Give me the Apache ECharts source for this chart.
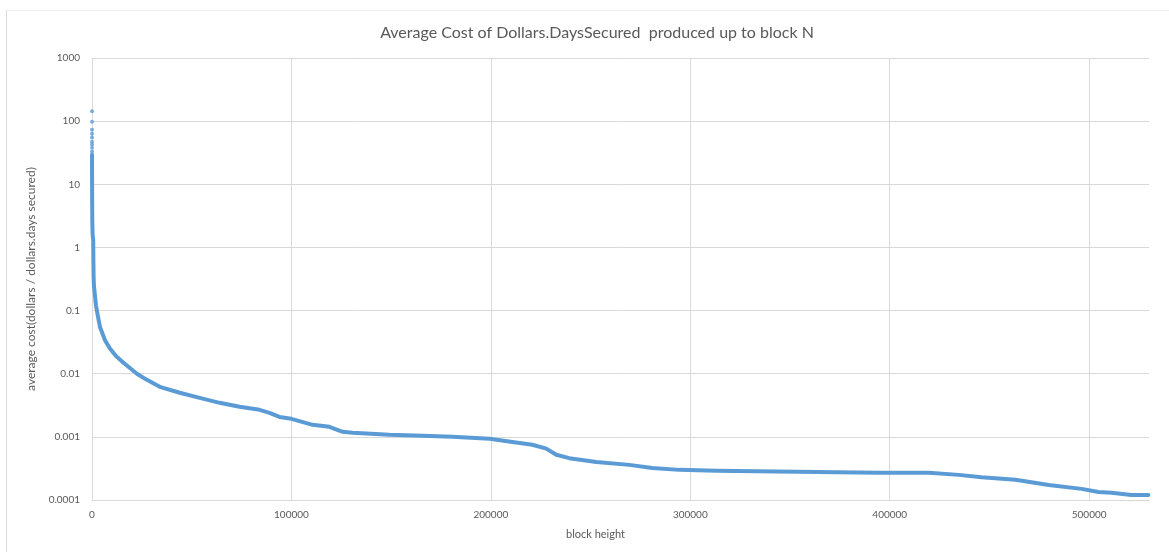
<!DOCTYPE html>
<html>
<head>
<meta charset="utf-8">
<title>Average Cost of Dollars.Days Secured</title>
<script src="https://cdn.jsdelivr.net/npm/echarts@6/dist/echarts.min.js"></script>
<style>
  html, body { margin: 0; padding: 0; background: #ffffff; }
  #chart { width: 1169px; height: 552px; }
</style>
</head>
<body>
<div id="chart"></div>
<script>
// Earliest blocks: sparse, individually visible points
const earlyBlocks = [1, 2, 3, 4, 5, 6, 7, 8, 9, 10];
const earlyCost   = [143, 98, 73, 63, 55, 47, 42.5, 38, 33, 29.4];

// Running average cost (dollars / dollars.days secured) up to block N
const blocks = [
  12, 20, 40, 80, 150, 300, 600, 700, 800, 1000, 1500, 2000, 3000, 4000,
  6500, 9000, 12000, 15500, 22500, 27500, 34000, 44000, 54000, 64000,
  74000, 84000, 89000, 94000, 100000, 110600, 119000, 125700, 130700,
  149000, 165700, 180700, 199300, 210800, 220800, 227800, 232800, 239300,
  252900, 269400, 280900, 294400, 313000, 353000, 394600, 419600, 434600,
  446100, 463100, 479700, 496200, 504700, 511200, 521200, 529700
];
const avgCost = [
  29, 20, 11, 5.5, 2.6, 1.6, 1.32, 0.6, 0.35, 0.24, 0.17, 0.12, 0.08, 0.055,
  0.034, 0.025, 0.019, 0.0152, 0.0100, 0.0080, 0.0062, 0.0050, 0.00415, 0.00346,
  0.00299, 0.00268, 0.0024, 0.00207, 0.00193, 0.00155, 0.00144, 0.0012, 0.00116,
  0.00108, 0.00104, 0.00100, 0.00093, 0.00083, 0.00075, 0.00065, 0.00052, 0.00046,
  0.00040, 0.00036, 0.00032, 0.00030, 0.00029, 0.00028, 0.00027, 0.00027, 0.00025,
  0.00023, 0.00021, 0.000173, 0.00015, 0.000134, 0.00013, 0.00012, 0.00012
];

const yTickLabels = ['0.0001', '0.001', '0.01', '0.1', '1', '10', '100', '1000'];

const font = 'Lato, "Open Sans", sans-serif';
const lineColor = '#5B9BD5';

const chart = echarts.init(document.getElementById('chart'), null, { renderer: 'canvas' });

chart.setOption({
  backgroundColor: '#ffffff',
  animation: false,
  title: {
    text: 'Average Cost of Dollars.DaysSecured  produced up to block N',
    left: 592,
    top: 20,
    textAlign: 'center',
    textStyle: { fontFamily: font, fontSize: 16, fontWeight: 'normal', color: '#595959' }
  },
  graphic: [
    { type: 'line', shape: { x1: 6.5, y1: 10, x2: 6.5, y2: 552 }, style: { stroke: '#d9d9d9', lineWidth: 1 } },
    { type: 'line', shape: { x1: 6, y1: 10.5, x2: 1169, y2: 10.5 }, style: { stroke: '#f0f0f0', lineWidth: 1 } }
  ],
  grid: { left: 92, right: 20, top: 58, bottom: 52, containLabel: false },
  xAxis: {
    type: 'value',
    min: 0,
    max: 530000,
    interval: 100000,
    name: 'block height',
    nameLocation: 'middle',
    nameGap: 29,
    nameTextStyle: { fontFamily: font, fontSize: 11, color: '#595959', padding: [0, 50, 0, 0] },
    axisLine: { show: true, lineStyle: { color: '#d9d9d9', width: 1 } },
    axisTick: { show: false },
    axisLabel: {
      fontFamily: font, fontSize: 10, color: '#595959', margin: 10, showMaxLabel: false,
      formatter: function (v) { return String(v); }
    },
    splitLine: { show: true, showMaxLine: false, lineStyle: { color: '#d9d9d9', width: 1 } }
  },
  yAxis: {
    type: 'log',
    logBase: 10,
    min: 0.0001,
    max: 1000,
    name: 'average cost(dollars / dollars.days secured)',
    nameLocation: 'middle',
    nameGap: 55,
    nameTextStyle: { fontFamily: font, fontSize: 12, color: '#595959' },
    axisLine: { show: true, lineStyle: { color: '#d9d9d9', width: 1 } },
    axisTick: { show: false },
    axisLabel: {
      fontFamily: font, fontSize: 10, color: '#595959', margin: 12,
      formatter: function (v) {
        const k = Math.round(Math.log10(v)) + 4;
        return yTickLabels[k] !== undefined ? yTickLabels[k] : '';
      }
    },
    splitLine: { show: true, lineStyle: { color: '#d9d9d9', width: 1 } }
  },
  series: [
    {
      type: 'scatter',
      data: earlyBlocks.map((b, i) => [b, earlyCost[i]]),
      symbol: 'circle',
      symbolSize: 4,
      itemStyle: { color: lineColor },
      z: 3
    },
    {
      type: 'line',
      data: blocks.map((b, i) => [b, avgCost[i]]),
      showSymbol: false,
      symbol: 'none',
      smooth: false,
      lineStyle: { color: lineColor, width: 4, join: 'round', cap: 'round' },
      z: 2
    }
  ]
});
</script>
</body>
</html>
